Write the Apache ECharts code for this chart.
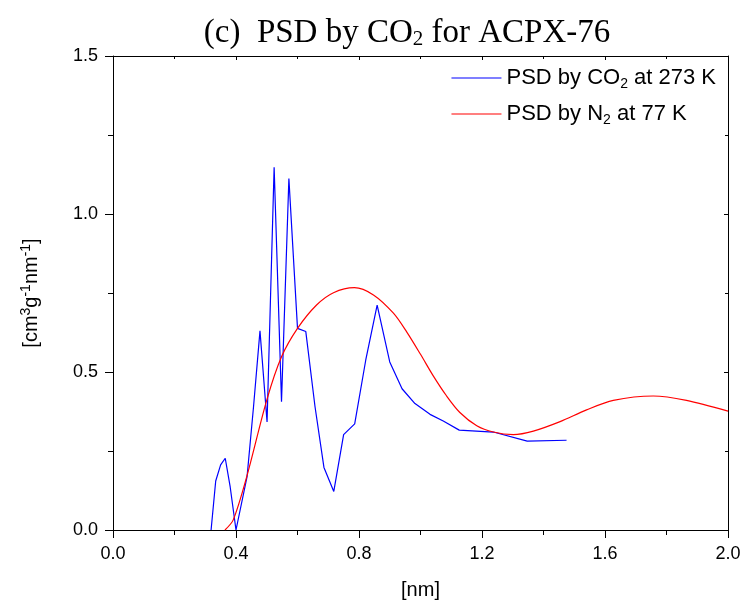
<!DOCTYPE html>
<html>
<head>
<meta charset="utf-8">
<script src="https://cdn.jsdelivr.net/npm/echarts@6/dist/echarts.min.js"></script>
<style>
  html, body { margin: 0; padding: 0; background: #fff; }
  #chart { width: 743px; height: 600px; }
</style>
</head>
<body>
<div id="chart"></div>
<script>
// pore width [nm] and PSD values
const co2Width = [0.319, 0.334, 0.350, 0.365, 0.381, 0.400, 0.436, 0.457, 0.478, 0.501, 0.524, 0.548, 0.572, 0.600, 0.627, 0.657, 0.686, 0.718, 0.750, 0.786, 0.822, 0.859, 0.900, 0.940, 0.982, 1.031, 1.074, 1.126, 1.237, 1.347, 1.475];
const co2Psd = [0.0, 0.155, 0.206, 0.227, 0.137, 0.0, 0.169, 0.39, 0.63, 0.342, 1.148, 0.406, 1.112, 0.638, 0.628, 0.39, 0.198, 0.122, 0.302, 0.336, 0.538, 0.712, 0.532, 0.447, 0.40, 0.366, 0.345, 0.316, 0.310, 0.281, 0.284];

const n2Width = [0.364, 0.391, 0.435, 0.5, 0.548, 0.6, 0.662, 0.717, 0.785, 0.847, 0.912, 0.955, 1.0, 1.042, 1.085, 1.128, 1.183, 1.237, 1.302, 1.367, 1.454, 1.54, 1.627, 1.757, 1.865, 2.0];
const n2Psd = [0.0, 0.032, 0.169, 0.411, 0.548, 0.638, 0.712, 0.751, 0.767, 0.744, 0.686, 0.627, 0.556, 0.487, 0.424, 0.372, 0.330, 0.310, 0.302, 0.313, 0.343, 0.38, 0.41, 0.424, 0.41, 0.376];

const seriesNames = ['PSD by CO2 at 273 K', 'PSD by N2 at 77 K'];
const legendLabels = {
  'PSD by CO2 at 273 K': 'PSD by CO{sub|2} at 273 K',
  'PSD by N2 at 77 K': 'PSD by N{sub|2} at 77 K',
};

const chart = echarts.init(document.getElementById('chart'));
const sans = 'Liberation Sans, Arial';
const axisFont = { fontFamily: sans, fontSize: 18, color: '#000' };
const black = { color: '#000', width: 1 };

const option = {
  animation: false,
  title: {
    text: '(c)  PSD by CO{s|2} for ACPX-76',
    left: 402,
    textAlign: 'center',
    top: 12,
    textStyle: {
      fontFamily: 'Liberation Serif, Times New Roman',
      fontSize: 33,
      fontWeight: 'normal',
      color: '#000',
      rich: {
        s: { fontFamily: 'Liberation Serif', fontSize: 21, color: '#000', padding: [12, 0, 0, 0] },
      },
    },
  },
  legend: {
    data: seriesNames,
    orient: 'vertical',
    right: 22,
    top: 62,
    icon: 'rect',
    itemWidth: 50,
    itemHeight: 1,
    itemGap: 12,
    formatter: name => legendLabels[name],
    textStyle: {
      fontFamily: sans,
      fontSize: 22,
      color: '#000',
      rich: {
        sub: { fontFamily: sans, fontSize: 14, color: '#000', padding: [12, 0, 0, 0] },
      },
    },
  },
  grid: { left: 113, right: 15, top: 56, bottom: 70, outerBoundsMode: 'none' },
  xAxis: [
    {
      type: 'value',
      min: 0,
      max: 2,
      interval: 0.4,
      name: '[nm]',
      nameLocation: 'middle',
      nameGap: 50,
      nameTextStyle: { ...axisFont, fontSize: 20 },
      axisLine: { onZero: false, lineStyle: black },
      axisTick: { inside: false, length: 8, lineStyle: black },
      minorTick: { show: true, splitNumber: 2, length: 5, lineStyle: black },
      axisLabel: { ...axisFont, margin: 15, formatter: v => v.toFixed(1) },
      splitLine: { show: false },
    },
    {
      type: 'value',
      position: 'top',
      min: 0,
      max: 2,
      interval: 0.4,
      axisLine: { show: true, onZero: false, lineStyle: black },
      axisTick: { inside: true, length: 4, lineStyle: black },
      minorTick: { show: true, splitNumber: 2, length: 3, lineStyle: black },
      axisLabel: { show: false },
      splitLine: { show: false },
    },
  ],
  yAxis: [
    {
      type: 'value',
      min: 0,
      max: 1.5,
      interval: 0.5,
      name: '[cm{sup|3}g{sup|-1}nm{sup|-1}]',
      nameLocation: 'middle',
      nameGap: 70,
      nameRotate: 90,
      nameTextStyle: {
        ...axisFont,
        fontSize: 20,
        rich: {
          sup: { fontFamily: sans, fontSize: 14, color: '#000', padding: [0, 0, 10, 0] },
        },
      },
      axisLine: { onZero: false, lineStyle: black },
      axisTick: { inside: false, length: 8, lineStyle: black },
      minorTick: { show: true, splitNumber: 2, length: 5, lineStyle: black },
      axisLabel: { ...axisFont, margin: 15, formatter: v => v.toFixed(1) },
      splitLine: { show: false },
    },
    {
      type: 'value',
      position: 'right',
      min: 0,
      max: 1.5,
      interval: 0.5,
      axisLine: { show: true, onZero: false, lineStyle: black },
      axisTick: { inside: true, length: 4, lineStyle: black },
      minorTick: { show: true, splitNumber: 2, length: 3, lineStyle: black },
      axisLabel: { show: false },
      splitLine: { show: false },
    },
  ],
  series: [
    {
      name: seriesNames[0],
      type: 'line',
      data: co2Width.map((w, i) => [w, co2Psd[i]]),
      symbol: 'none',
      lineStyle: { color: '#0000ff', width: 1.2 },
      itemStyle: { color: '#0000ff' },
    },
    {
      name: seriesNames[1],
      type: 'line',
      data: n2Width.map((w, i) => [w, n2Psd[i]]),
      symbol: 'none',
      smooth: 0.3,
      lineStyle: { color: '#ff0000', width: 1.2 },
      itemStyle: { color: '#ff0000' },
    },
  ],
};

chart.setOption(option);
</script>
</body>
</html>
